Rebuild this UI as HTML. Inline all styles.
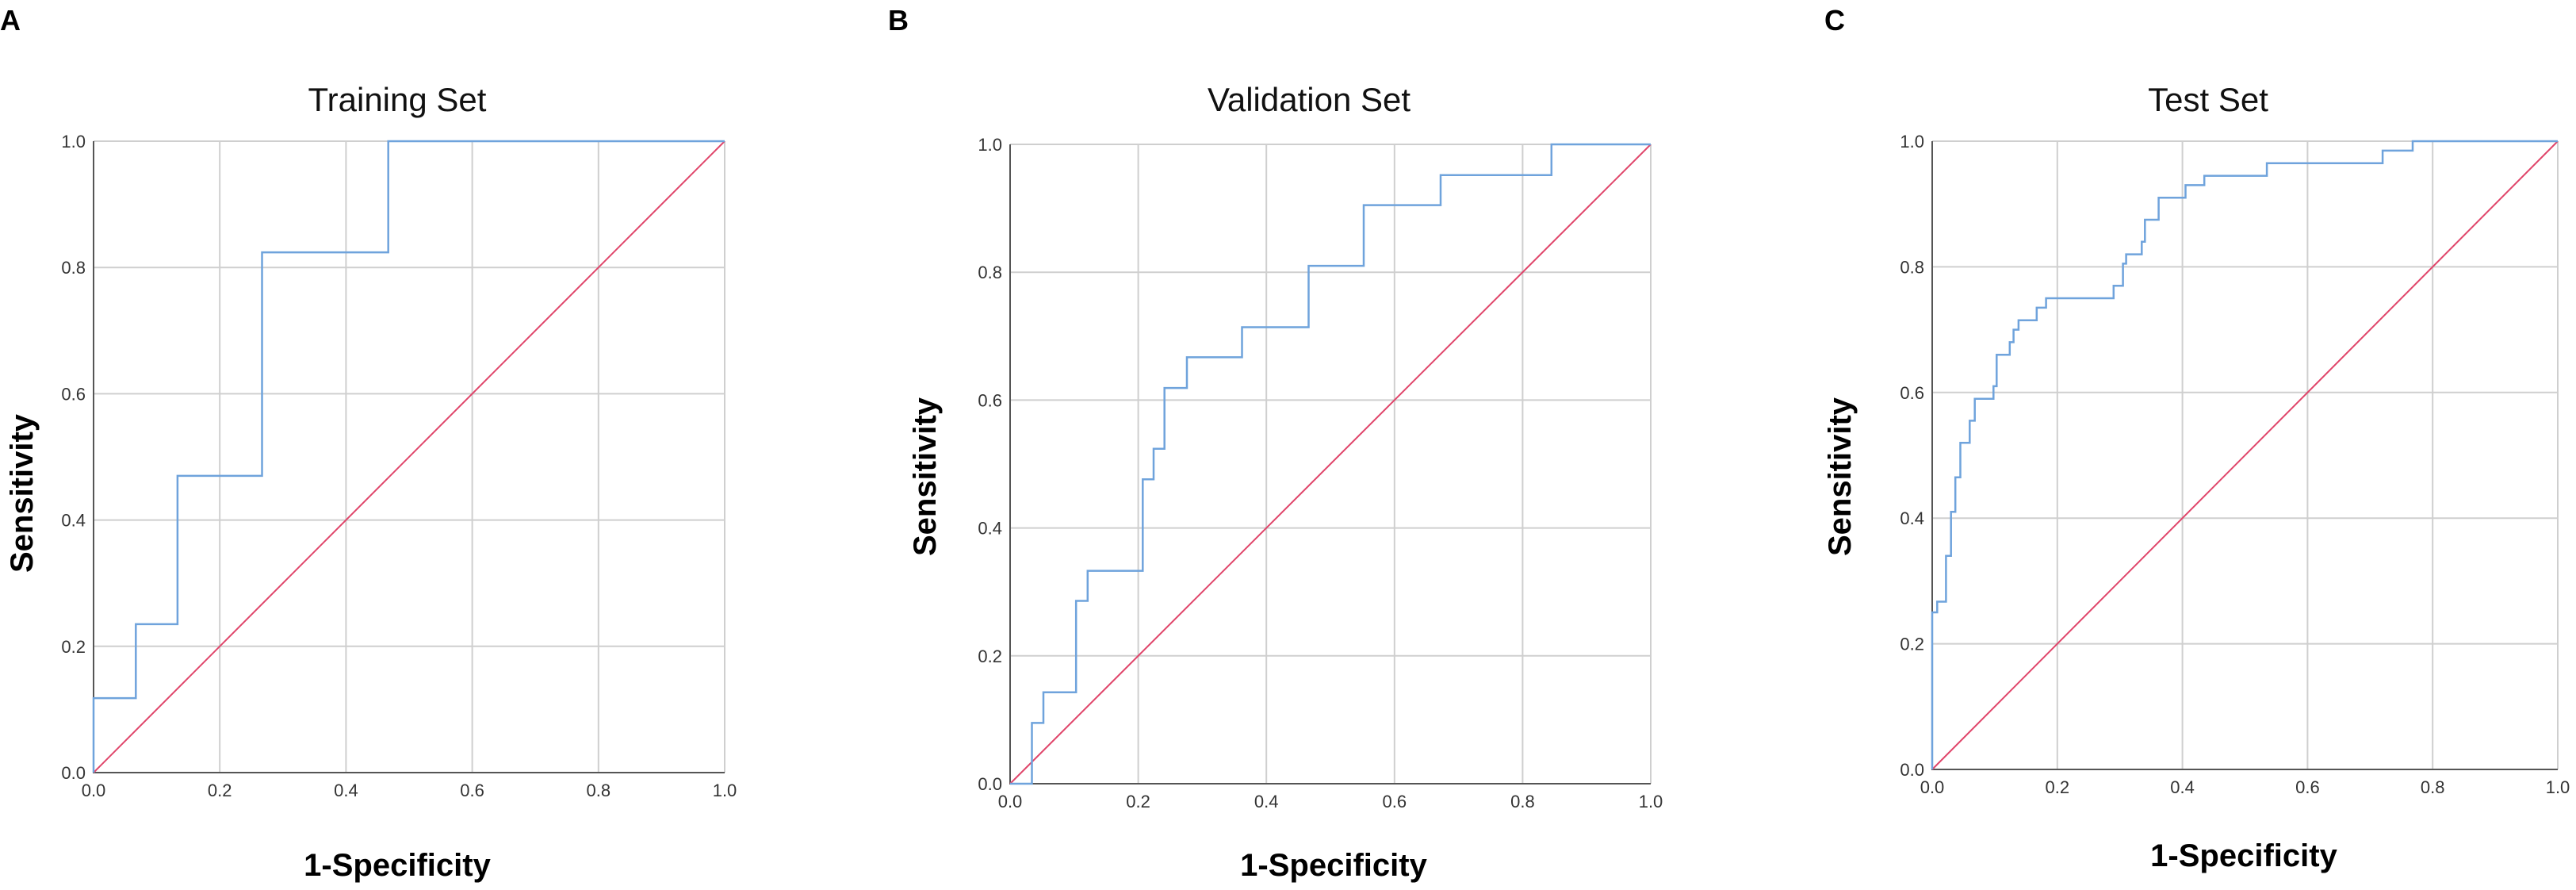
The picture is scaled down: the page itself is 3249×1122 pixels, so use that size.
<!DOCTYPE html>
<html><head><meta charset="utf-8"><style>
html,body{margin:0;padding:0;background:#fff;}
svg{display:block;font-family:"Liberation Sans",Arial,sans-serif;}
</style></head><body>
<svg id="fig" width="3249" height="1122" viewBox="0 0 3249 1122" xmlns="http://www.w3.org/2000/svg"></svg>
<script>
const ticks = [0, 0.2, 0.4, 0.6, 0.8, 1.0];
const tickLabels = ["0.0","0.2","0.4","0.6","0.8","1.0"];
const titles = ["Training Set","Validation Set","Test Set"];
const panelLetters = ["A","B","C"];
// ROC points (1-specificity, sensitivity), drawn as steps
const fprA = [0, 0, 0.067, 0.067, 0.133, 0.133, 0.267, 0.267, 0.467, 0.467, 1];
const tprA = [0, 0.118, 0.118, 0.235, 0.235, 0.47, 0.47, 0.824, 0.824, 1, 1];
const fprB = [0,0.034,0.034,0.052,0.052,0.103,0.103,0.121,0.121,0.207,0.207,0.224,0.224,0.241,0.241,0.276,0.276,0.362,0.362,0.466,0.466,0.552,0.552,0.672,0.672,0.845,0.845,1];
const tprB = [0,0,0.095,0.095,0.143,0.143,0.286,0.286,0.333,0.333,0.476,0.476,0.524,0.524,0.619,0.619,0.667,0.667,0.714,0.714,0.81,0.81,0.905,0.905,0.952,0.952,1,1];
const fprC = [0,0,0.008,0.008,0.022,0.022,0.03,0.03,0.037,0.037,0.045,0.045,0.06,0.06,0.068,0.068,0.098,0.098,0.103,0.103,0.124,0.124,0.13,0.13,0.138,0.138,0.167,0.167,0.182,0.182,0.29,0.29,0.305,0.305,0.31,0.31,0.335,0.335,0.34,0.34,0.362,0.362,0.405,0.405,0.435,0.435,0.535,0.535,0.72,0.72,0.768,0.768,1];
const tprC = [0,0.25,0.25,0.267,0.267,0.34,0.34,0.41,0.41,0.465,0.465,0.52,0.52,0.555,0.555,0.59,0.59,0.61,0.61,0.66,0.66,0.68,0.68,0.70,0.70,0.715,0.715,0.735,0.735,0.75,0.75,0.77,0.77,0.805,0.805,0.82,0.82,0.84,0.84,0.875,0.875,0.91,0.91,0.93,0.93,0.945,0.945,0.965,0.965,0.985,0.985,1,1];
const fprs=[fprA,fprB,fprC], tprs=[tprA,tprB,tprC];

const layout = [
 {x0:118,x1:914,y0:178,y1:974,letterX:0,titleX:501,titleY:140,ylabX:27,ylabY:622,xlabX:501,xlabY:1104},
 {x0:1274,x1:2082,y0:182,y1:988,letterX:1120,titleX:1651,titleY:140,ylabX:1166,ylabY:601,xlabX:1682,xlabY:1104},
 {x0:2437,x1:3226,y0:178,y1:970,letterX:2301,titleX:2785,titleY:140,ylabX:2320,ylabY:601,xlabX:2830,xlabY:1092}
];
const svg=document.getElementById('fig');
const NS='http://www.w3.org/2000/svg';
function mk(t,a,parent){const e=document.createElementNS(NS,t);for(const k in a)e.setAttribute(k,a[k]);(parent||svg).appendChild(e);return e;}
layout.forEach((L,i)=>{
 const g=mk('g',{});
 
 
 const sx=v=>L.x0+v*(L.x1-L.x0), sy=v=>L.y1-v*(L.y1-L.y0);
 ticks.forEach((t,j)=>{
  const gv=mk('line',{x1:sx(t),x2:sx(t),y1:L.y0,y2:L.y1,stroke:'#cfcfcf','stroke-width':2},g);
  
  
  const gh=mk('line',{x1:L.x0,x2:L.x1,y1:sy(t),y2:sy(t),stroke:'#cfcfcf','stroke-width':2},g);
  
  
  const xt=mk('text',{x:sx(t),y:L.y1+30,'text-anchor':'middle','font-size':22,fill:'#333'},g);
  xt.textContent=tickLabels[j];
  
  
  const yt=mk('text',{x:L.x0-10,y:sy(t)+8,'text-anchor':'end','font-size':22,fill:'#333'},g);
  yt.textContent=tickLabels[j];
  
  
 });
 const ax=mk('path',{d:`M${L.x0},${L.y0}V${L.y1}H${L.x1}`,stroke:'#555',fill:'none','stroke-width':2},g);
 
 
 const ref=mk('line',{x1:sx(0),y1:sy(0),x2:sx(1),y2:sy(1),stroke:'#e0456a','stroke-width':2},g);
 
 
 const fx=fprs[i], ty=tprs[i];
 const d=fx.map((v,k)=>(k?'L':'M')+sx(v).toFixed(1)+','+sy(ty[k]).toFixed(1)).join('');
 const roc=mk('path',{d:d,stroke:'#6fa3dc',fill:'none','stroke-width':2.5},g);
 
 
 const tt=mk('text',{x:L.titleX,y:L.titleY,'text-anchor':'middle','font-size':42,fill:'#111'},g);
 tt.textContent=titles[i];
 
 
 const lt=mk('text',{x:L.letterX,y:38,'font-size':36,'font-weight':'bold',fill:'#000'},g);
 lt.textContent=panelLetters[i];
 
 
 const yl=mk('text',{x:0,y:0,transform:`translate(${L.ylabX+14},${L.ylabY}) rotate(-90)`,'text-anchor':'middle','font-size':40,'font-weight':'bold',fill:'#000'},g);
 yl.textContent='Sensitivity';
 
 
 const xl=mk('text',{x:L.xlabX,y:L.xlabY,'text-anchor':'middle','font-size':40,'font-weight':'bold',fill:'#000'},g);
 xl.textContent='1-Specificity';
 
 
});
</script>
</body></html>
